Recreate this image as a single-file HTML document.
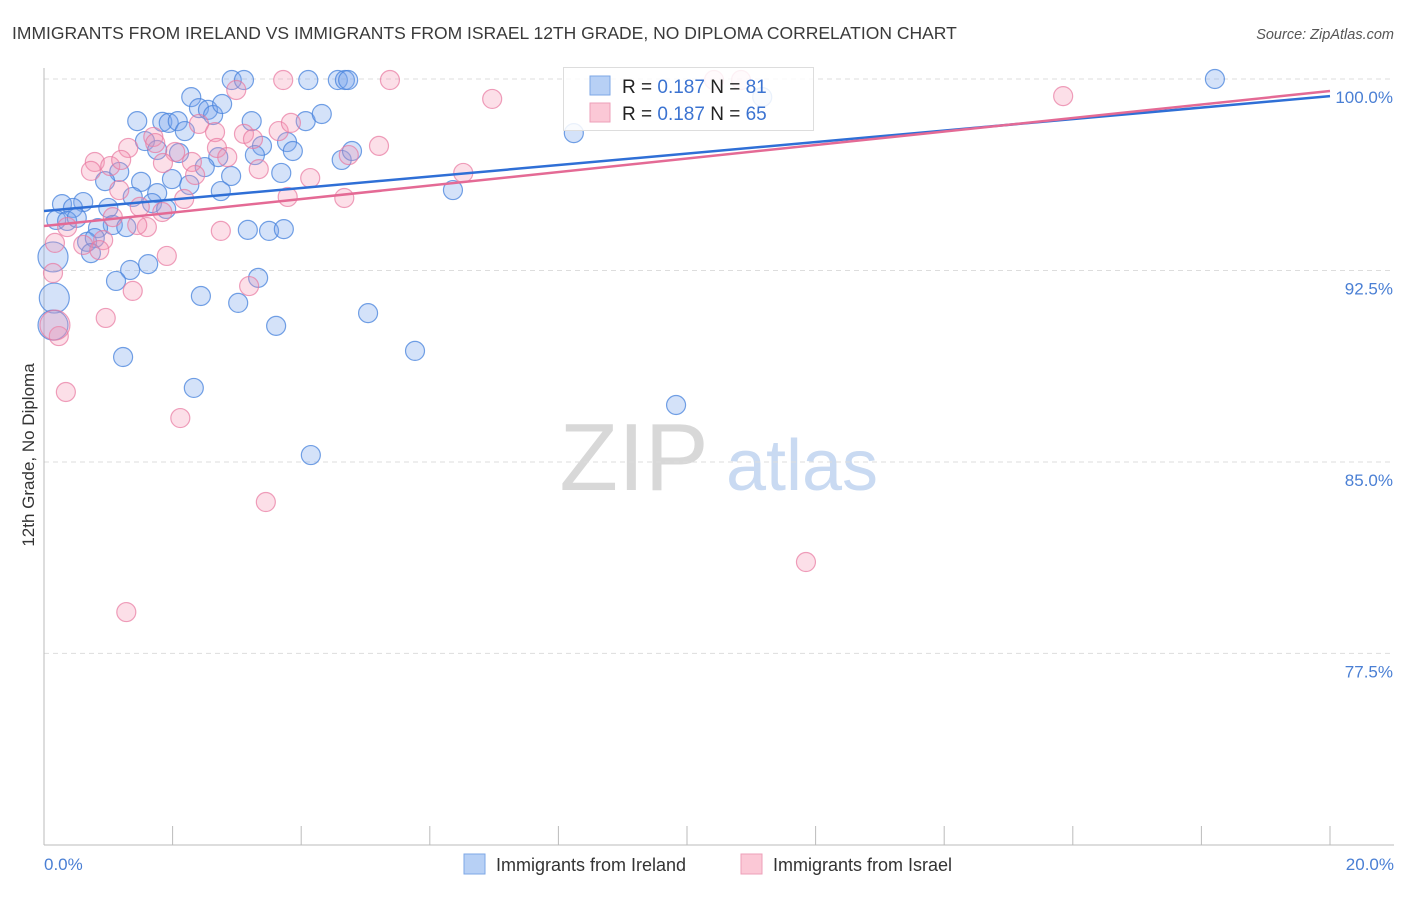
<!DOCTYPE html>
<html><head><meta charset="utf-8">
<style>
body{margin:0;background:#fff;font-family:"Liberation Sans",sans-serif;}
svg text{font-family:"Liberation Sans",sans-serif;}
</style></head>
<body>
<svg id="chart" width="1406" height="892" viewBox="0 0 1406 892" xmlns="http://www.w3.org/2000/svg">
<text x="12" y="39" font-size="17.5" fill="#3a3a3a">IMMIGRANTS FROM IRELAND VS IMMIGRANTS FROM ISRAEL 12TH GRADE, NO DIPLOMA CORRELATION CHART</text>
<text x="1394" y="39" font-size="14.5" fill="#555" font-style="italic" text-anchor="end">Source: ZipAtlas.com</text>
<g>
<text x="634" y="490" font-size="96" fill="#d8d8d8" text-anchor="middle" font-family="Liberation Serif, serif">ZIP</text>
<text x="802" y="490" font-size="72" fill="#c9daf2" text-anchor="middle">atlas</text>
</g>
<g id="grid"></g>
<g id="axes"></g>
<g id="points"></g>
<g id="trend"></g>
<text transform="translate(34,455) rotate(-90)" font-size="17" fill="#333" text-anchor="middle">12th Grade, No Diploma</text>
<text x="44" y="870" font-size="17" fill="#4a7fd4">0.0%</text>
<text x="1394" y="870" font-size="17" fill="#4a7fd4" text-anchor="end">20.0%</text>
<g>
<rect x="563.5" y="67.5" width="250" height="63" fill="#fff" fill-opacity="0.85" stroke="#ddd"/>
<rect x="590" y="76" width="20" height="19" fill="#b7d0f5" stroke="#7ea7e6"/>
<rect x="590" y="103" width="20" height="19" fill="#fbc8d6" stroke="#ee9fb8"/>
<text x="622" y="93" font-size="19" fill="#222">R = <tspan fill="#3b73d1">0.187</tspan>   N = <tspan fill="#3b73d1"> 81</tspan></text>
<text x="622" y="120" font-size="19" fill="#222">R = <tspan fill="#3b73d1">0.187</tspan>   N = <tspan fill="#3b73d1">65</tspan></text>
</g>
<g>
<rect x="464" y="854" width="21" height="20" fill="#b7d0f5" stroke="#7ea7e6"/>
<text x="496" y="871" font-size="18" fill="#333">Immigrants from Ireland</text>
<rect x="741" y="854" width="21" height="20" fill="#fbc8d6" stroke="#ee9fb8"/>
<text x="773" y="871" font-size="18" fill="#333">Immigrants from Israel</text>
</g>
</svg>
<script>
const yTicks=[100,92.5,85,77.5];
const yTickLabels=["100.0%","92.5%","85.0%","77.5%"];
const xTicks=[0,2,4,6,8,10,12,14,16,18,20];
const irelandX=[2.92,3.11,4.11,4.57,4.68,4.73,18.21,2.29,2.41,2.55,2.63,2.77,1.45,1.84,1.94,2.08,2.19,3.23,4.07,4.32,1.57,1.76,2.10,3.39,3.28,3.78,3.87,4.63,4.79,1.17,0.95,1.51,1.99,2.26,2.71,2.50,2.91,3.69,2.75,1.76,1.38,1.68,1.90,1.00,0.61,0.28,0.45,0.19,0.36,0.51,1.07,1.28,0.84,3.17,3.50,3.73,0.67,0.79,0.73,0.14,1.34,1.62,1.12,3.33,0.16,2.44,3.02,5.04,3.61,0.14,1.23,8.24,6.36,5.77,2.33,4.15,9.83,11.17];
const irelandY=[99.96,99.96,99.96,99.96,99.96,99.96,100,99.29,98.86,98.79,98.59,99.02,98.35,98.32,98.28,98.35,97.96,98.35,98.35,98.63,97.57,97.22,97.10,97.38,97.02,97.53,97.18,96.83,97.18,96.36,96.00,95.97,96.08,95.85,96.94,96.55,96.20,96.32,95.61,95.53,95.38,95.14,94.91,94.95,95.18,95.10,94.95,94.48,94.44,94.56,94.28,94.20,94.16,94.09,94.05,94.12,93.62,93.77,93.18,93.03,92.52,92.75,92.09,92.21,91.42,91.50,91.23,90.83,90.33,90.36,89.11,97.88,95.65,89.35,87.90,85.27,87.23,99.29];
const irelandBig=[59,64,69];
const israelX=[3.72,5.38,2.99,2.41,2.66,3.11,3.25,3.65,3.84,5.21,4.74,1.70,1.73,1.31,2.04,0.79,0.73,1.03,1.20,1.85,2.30,2.69,2.85,3.34,4.14,1.17,2.35,3.79,4.67,2.18,1.49,1.84,1.07,0.36,1.60,1.45,2.75,0.61,0.92,0.86,0.17,1.91,0.14,3.19,1.38,0.96,0.23,0.17,6.97,6.52,15.85,10.42,10.84,0.34,2.12,3.45,1.28,11.85];
const israelY=[99.96,99.96,99.57,98.24,97.92,97.85,97.65,97.96,98.28,97.38,97.02,97.73,97.49,97.30,97.14,96.75,96.40,96.59,96.83,96.71,96.75,97.30,96.94,96.47,96.12,95.65,96.24,95.38,95.34,95.30,94.99,94.79,94.59,94.20,94.20,94.28,94.05,93.50,93.69,93.30,93.58,93.07,92.40,91.89,91.70,90.64,89.93,90.36,99.22,96.32,99.33,99.96,99.96,87.74,86.72,83.43,79.12,81.08];
const israelBig=[47];
const trendIreland=[94.83,99.33];
const trendIsrael=[94.24,99.53];

const X0=44,X1=1330,Y0=79,PXPER=25.53;
const sx=v=>X0+(v/20)*(X1-X0);
const sy=v=>Y0+(100-v)*PXPER;
const NS="http://www.w3.org/2000/svg";
function mk(tag,attrs,parent){const e=document.createElementNS(NS,tag);for(const k in attrs)e.setAttribute(k,attrs[k]);parent.appendChild(e);return e;}

const grid=document.getElementById('grid');
yTicks.forEach((t,i)=>{
  const l=mk('line',{x1:X0,x2:1394,y1:sy(t),y2:sy(t),stroke:'#ddd','stroke-dasharray':'5,4'},grid);
  
  
  const tx=mk('text',{x:1393,y:sy(t)+24,'font-size':17,fill:'#4a7fd4','text-anchor':'end'},grid);
  tx.textContent=yTickLabels[i];
  
  
});
const axes=document.getElementById('axes');
const ya=mk('line',{x1:X0,x2:X0,y1:68,y2:845,stroke:'#bbb'},axes);


const xa=mk('line',{x1:X0,x2:1394,y1:845,y2:845,stroke:'#bbb'},axes);


xTicks.forEach(t=>{
  const l=mk('line',{x1:sx(t),x2:sx(t),y1:826,y2:845,stroke:'#bbb'},axes);
  
  
});
const pts=document.getElementById('points');
function drawSeries(xs,ys,big,fill,stroke,name){
  xs.forEach((v,i)=>{
    const c=mk('circle',{cx:sx(v),cy:sy(ys[i]),r:big.includes(i)?15:9.5,fill:fill,stroke:stroke,'stroke-width':1.2},pts);
    
    
  });
}
drawSeries(irelandX,irelandY,irelandBig,'rgba(120,165,235,0.32)','rgba(70,130,220,0.75)','ireland-point');
drawSeries(israelX,israelY,israelBig,'rgba(245,150,180,0.3)','rgba(232,120,160,0.7)','israel-point');
const tr=document.getElementById('trend');
const tb=mk('line',{x1:sx(0),x2:sx(20),y1:sy(trendIreland[0]),y2:sy(trendIreland[1]),stroke:'#2f6fd6','stroke-width':2.5},tr);


const tp=mk('line',{x1:sx(0),x2:sx(20),y1:sy(trendIsrael[0]),y2:sy(trendIsrael[1]),stroke:'#e46a95','stroke-width':2.5},tr);


</script>
</body></html>
